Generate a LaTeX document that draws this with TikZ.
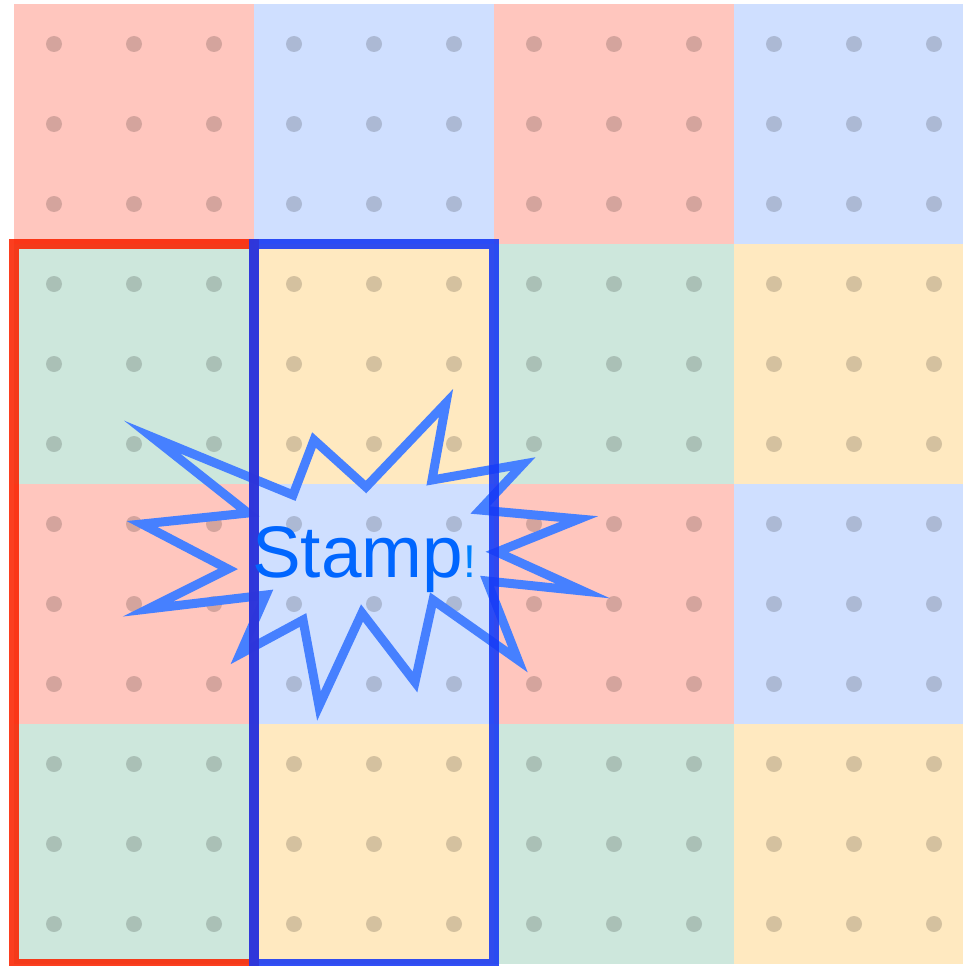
\documentclass[tikz,border=0pt]{standalone}
\usepackage{fontspec}
\setmainfont{Liberation Sans}
\definecolor{cred}{RGB}{255,198,190}
\definecolor{cblue}{RGB}{207,223,255}
\definecolor{cgreen}{RGB}{205,231,220}
\definecolor{cyellow}{RGB}{255,233,192}
\definecolor{strokered}{RGB}{250,35,0}
\definecolor{strokeblue}{RGB}{20,55,245}
\definecolor{starblue}{RGB}{70,128,255}
\definecolor{textblue}{RGB}{0,102,255}
\definecolor{bangblue}{RGB}{0,130,255}
\tikzset{
  cell/.style={draw=none},
  dot/.style={fill=black,opacity=0.17},
  frame/.style={line width=10pt,draw opacity=0.88},
  burst/.style={draw=starblue,line width=9pt,line join=miter}
}
\begin{document}
\begin{tikzpicture}[x=1pt,y=-1pt]
\useasboundingbox (0,0) rectangle (963,966);
\begin{scope}
\clip (0,0) rectangle (963,966);
\foreach \r in {0,2}{\foreach \c in {0,2}{\fill[cell,cred] (14+240*\c,4+240*\r) rectangle ++(240,240);}}
\foreach \r in {0,2}{\foreach \c in {1,3}{\fill[cell,cblue] (14+240*\c,4+240*\r) rectangle ++(240,240);}}
\foreach \r in {1,3}{\foreach \c in {0,2}{\fill[cell,cgreen] (14+240*\c,4+240*\r) rectangle ++(240,240);}}
\foreach \r in {1,3}{\foreach \c in {1,3}{\fill[cell,cyellow] (14+240*\c,4+240*\r) rectangle ++(240,240);}}
\foreach \i in {0,...,11}{\foreach \j in {0,...,11}{\fill[dot] (54+80*\i,44+80*\j) circle (8pt);}}
\end{scope}
% starburst
\draw[burst] (152,437) -- (248,513) -- (142,524) -- (228,569) -- (148,609) -- (266,595)
  -- (240,654) -- (303,620) -- (319,706) -- (362,613) -- (415,682) -- (433,600)
  -- (518,660) -- (487,581) -- (583,591) -- (497,552) -- (579,519) -- (480,510)
  -- (523,464) -- (432,480) -- (446,403) -- (366,487) -- (314,440) -- (293,495) -- cycle;
% frames
\draw[frame,draw=strokered] (14,244) rectangle (254,964);
\draw[frame,draw=strokeblue] (254,244) rectangle (494,964);
% text
\node[anchor=base west,inner sep=0pt,text=textblue,font=\fontsize{73}{73}\selectfont] (stamp) at (252,577) {Stamp{\fontsize{46}{46}\selectfont\color{bangblue}!}};
\end{tikzpicture}
\end{document}
